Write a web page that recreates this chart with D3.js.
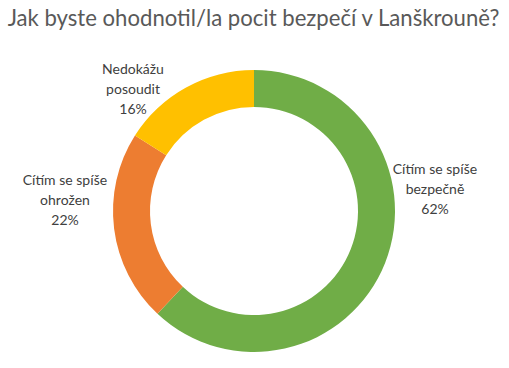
<!DOCTYPE html>
<html>
<head>
<meta charset="utf-8">
<script src="https://cdn.jsdelivr.net/npm/d3@7"></script>
<style>
  body { margin: 0; background: #fff; }
  svg { display: block; font-family: Lato, "Open Sans", sans-serif; }
</style>
</head>
<body>
<script>
// chart data
const categories = ["Cítím se spíše bezpečně", "Cítím se spíše ohrožen", "Nedokážu posoudit"];
const values = [62, 22, 16];
const labelLines = [
    ["Cítím se spíše", "bezpečně", "62%"],
    ["Cítím se spíše", "ohrožen", "22%"],
    ["Nedokážu", "posoudit", "16%"]
];
const colors = ["#70AD47", "#ED7D31", "#FFC000"];
const title = "Jak byste ohodnotil/la pocit bezpečí v Lanškrouně?";

// layout
const WIDTH = 509, HEIGHT = 368;
const CX = 254, CY = 211;
const OUTER_R = 141, INNER_R = 104;
// label anchor positions (center of first line)
const labelPos = [[435, 168], [65, 179], [133, 68]];
const LINE_H = 20;

const svg = d3.select("body").append("svg")
    .attr("width", WIDTH)
    .attr("height", HEIGHT);

// title, sized to match the width of the original
const titleText = svg.append("text")
    .attr("x", WIDTH / 2 - 1)
    .attr("y", 26)
    .attr("text-anchor", "middle")
    .style("fill", "#595959")
    .style("font-size", "20px")
    .text(title);
const tw = titleText.node().getComputedTextLength();
titleText.style("font-size", (20 * 492 / tw) + "px");

const pie = d3.pie().sort(null).value(d => d);
const arc = d3.arc().innerRadius(INNER_R).outerRadius(OUTER_R);

const g = svg.append("g").attr("transform", `translate(${CX},${CY})`);
g.selectAll("path")
    .data(pie(values))
    .enter()
    .append("path")
    .attr("d", arc)
    .style("fill", (d, i) => colors[i]);

// data labels
const labels = svg.selectAll("text.label")
    .data(labelLines)
    .enter()
    .append("text")
    .classed("label", true)
    .attr("text-anchor", "middle")
    .style("fill", "#404040")
    .style("font-size", "14px");

labels.selectAll("tspan")
    .data((d, i) => d.map(line => ({ line, i })))
    .enter()
    .append("tspan")
    .attr("x", d => labelPos[d.i][0])
    .attr("y", (d, j) => labelPos[d.i][1] + j * LINE_H)
    .attr("dominant-baseline", "central")
    .text(d => d.line);
</script>
</body>
</html>
